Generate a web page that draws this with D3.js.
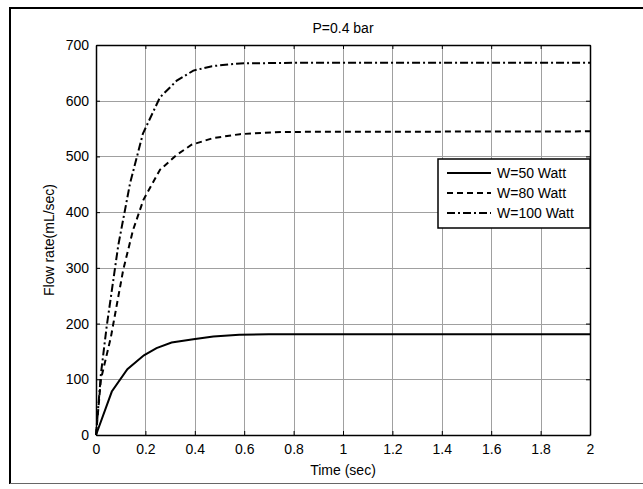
<!DOCTYPE html>
<html>
<head>
<meta charset="utf-8">
<script src="https://cdn.jsdelivr.net/npm/d3@7"></script>
<style>
  body { margin: 0; background: #fff; }
  svg { display: block; font-family: "Liberation Sans", Arial, sans-serif; }
</style>
</head>
<body>
<svg id="chart" width="643" height="489"></svg>
<script>
// values (time in sec, flow in mL/sec)
const xTicks = [0, 0.2, 0.4, 0.6, 0.8, 1, 1.2, 1.4, 1.6, 1.8, 2];
const yTicks = [0, 100, 200, 300, 400, 500, 600, 700];
const seriesNames = ["W=50 Watt", "W=80 Watt", "W=100 Watt"];

const w50 = [
  [0, 0], [0.064, 78], [0.127, 118], [0.194, 143], [0.245, 156], [0.306, 166],
  [0.394, 172], [0.475, 177], [0.58, 180], [0.7, 181], [2, 181]
];
const w80 = [
  [0, 0], [0.02, 100], [0.06, 175], [0.11, 296], [0.15, 368], [0.192, 422],
  [0.259, 476], [0.327, 503], [0.387, 521], [0.475, 533], [0.583, 540],
  [0.75, 544], [2, 545]
];
const w100 = [
  [0, 0], [0.02, 110], [0.043, 194], [0.09, 340], [0.138, 452], [0.19, 541],
  [0.259, 606], [0.327, 636], [0.394, 654], [0.47, 662], [0.583, 667],
  [0.8, 668], [2, 668]
];

const svg = d3.select("#chart");
const margin = {left: 96, top: 45, right: 590, bottom: 435};
const fs = 14;

// outer figure frame
svg.append("line").attr("x1", 10).attr("y1", 8).attr("x2", 643).attr("y2", 8)
  .attr("stroke", "#000").attr("stroke-width", 2);
svg.append("line").attr("x1", 10).attr("y1", 7).attr("x2", 10).attr("y2", 484)
  .attr("stroke", "#000").attr("stroke-width", 2);
svg.append("line").attr("x1", 10).attr("y1", 483.5).attr("x2", 643).attr("y2", 483.5)
  .attr("stroke", "#666").attr("stroke-width", 1);

const x = d3.scaleLinear().domain([0, 2]).range([margin.left, margin.right]);
const y = d3.scaleLinear().domain([0, 700]).range([margin.bottom, margin.top]);

// grid
const grid = svg.append("g").attr("stroke", "#a0a0a0").attr("stroke-width", 1);
grid.selectAll(".vg").data(xTicks.slice(1, -1)).enter().append("line")
  .attr("x1", d => Math.round(x(d)) + 0.5).attr("x2", d => Math.round(x(d)) + 0.5)
  .attr("y1", margin.top).attr("y2", margin.bottom);
grid.selectAll(".hg").data(yTicks.slice(1, -1)).enter().append("line")
  .attr("y1", d => Math.round(y(d)) + 0.5).attr("y2", d => Math.round(y(d)) + 0.5)
  .attr("x1", margin.left).attr("x2", margin.right);

// axes
const xAxis = svg.append("g").attr("transform", `translate(0,${margin.bottom})`)
  .call(d3.axisBottom(x).tickValues(xTicks).tickFormat(d3.format("~g")).tickSizeInner(-4).tickSizeOuter(0).tickPadding(9));
const yAxis = svg.append("g").attr("transform", `translate(${margin.left},0)`)
  .call(d3.axisLeft(y).tickValues(yTicks).tickSizeInner(-4).tickSizeOuter(0).tickPadding(7));
const xTop = svg.append("g").attr("transform", `translate(0,${margin.top})`)
  .call(d3.axisTop(x).tickValues(xTicks).tickFormat("").tickSizeInner(-4).tickSizeOuter(0));
const yRight = svg.append("g").attr("transform", `translate(${margin.right},0)`)
  .call(d3.axisRight(y).tickValues(yTicks).tickFormat("").tickSizeInner(-4).tickSizeOuter(0));

[xAxis, yAxis, xTop, yRight].forEach(g => {
  g.select(".domain").attr("stroke", "#000").attr("stroke-width", 1.5);
  g.selectAll(".tick line").attr("stroke", "#000");
  g.selectAll("text").attr("font-size", fs).attr("font-family", "Liberation Sans, Arial, sans-serif").attr("fill", "#000");
});

// curves
const line = d3.line().x(d => x(d[0])).y(d => y(d[1]));
const styles = [null, "6,4", "8,3,2,3"];
[w50, w80, w100].forEach((s, i) => {
  svg.append("path").datum(s).attr("d", line)
    .attr("fill", "none").attr("stroke", "#000").attr("stroke-width", 2)
    .attr("stroke-dasharray", styles[i]);
});

// titles
svg.append("text").attr("x", (margin.left + margin.right) / 2).attr("y", 33)
  .attr("text-anchor", "middle").attr("font-size", fs).text("P=0.4 bar");
svg.append("text").attr("x", (margin.left + margin.right) / 2).attr("y", 475)
  .attr("text-anchor", "middle").attr("font-size", fs).text("Time (sec)");
svg.append("text").attr("transform", `translate(54,${(margin.top + margin.bottom) / 2}) rotate(-90)`)
  .attr("text-anchor", "middle").attr("font-size", fs).text("Flow rate(mL/sec)");

// legend
const lg = svg.append("g").attr("transform", "translate(438,159)");
lg.append("rect").attr("width", 152).attr("height", 69)
  .attr("fill", "#fff").attr("stroke", "#000").attr("stroke-width", 1.5);
seriesNames.forEach((name, i) => {
  const yy = 14 + i * 20;
  lg.append("line").attr("x1", 9).attr("x2", 53).attr("y1", yy).attr("y2", yy)
    .attr("stroke", "#000").attr("stroke-width", 2).attr("stroke-dasharray", styles[i]);
  lg.append("text").attr("x", 59).attr("y", yy + 5).attr("font-size", fs).text(name);
});
</script>
</body>
</html>
